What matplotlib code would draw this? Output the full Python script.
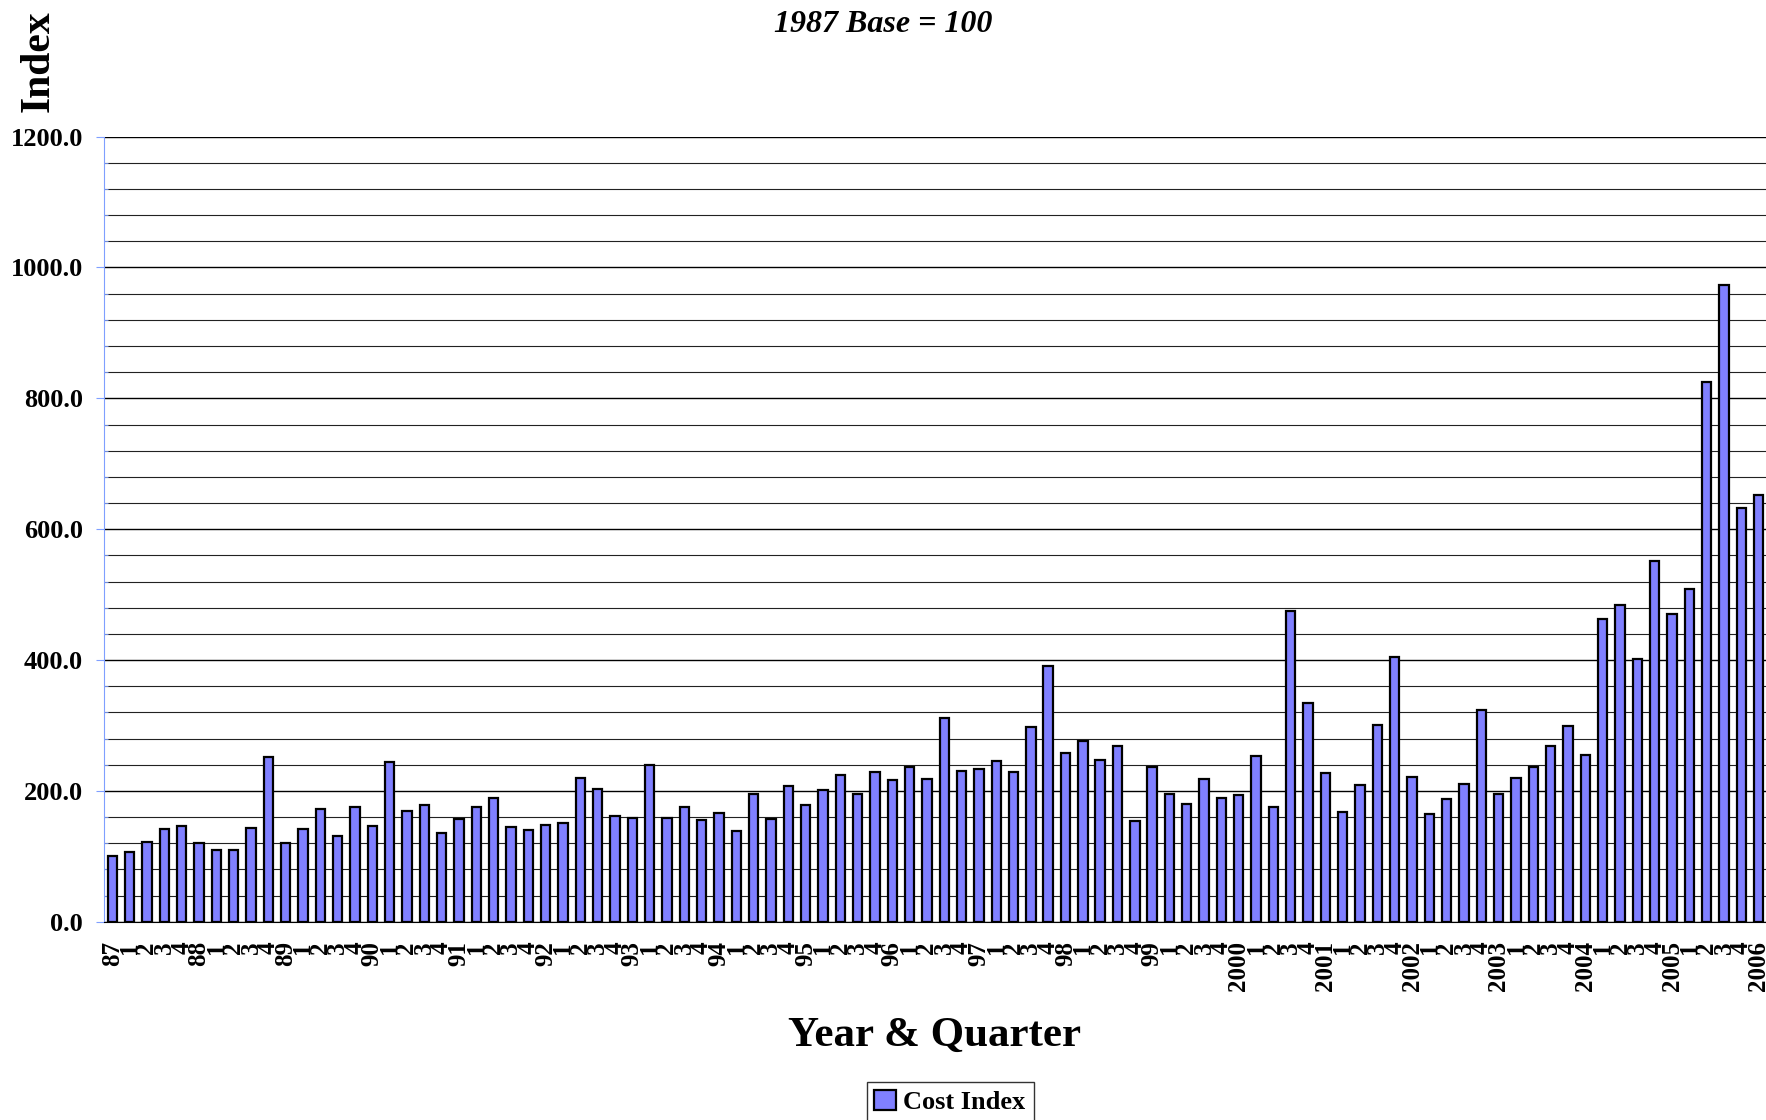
import numpy as np
import matplotlib.pyplot as plt
from matplotlib.ticker import MultipleLocator, FormatStrFormatter

# 年份标签 + 每年 4 个季度
years = ['87', '88', '89', '90', '91', '92', '93', '94', '95', '96', '97', '98', '99',
         '2000', '2001', '2002', '2003', '2004', '2005', '2006']
quarters = ['1', '2', '3', '4']

# Cost Index (1987 base = 100)
cost_index = [100, 107, 122, 142, 146, 121, 110, 110, 143, 252,
              121, 142, 173, 131, 176, 146, 244, 169, 178, 135,
              157, 175, 189, 145, 141, 148, 151, 220, 203, 161,
              159, 239, 159, 176, 156, 166, 138, 196, 157, 207,
              178, 201, 225, 195, 229, 217, 236, 218, 311, 231,
              234, 245, 229, 298, 391, 258, 277, 248, 269, 154,
              237, 196, 180, 218, 189, 193, 254, 176, 475, 335,
              227, 168, 209, 301, 404, 221, 164, 188, 210, 324,
              195, 219, 237, 268, 299, 255, 462, 484, 402, 551,
              471, 508, 825, 974, 633, 653]

labels = []
for y in years:
    labels.append(y)
    labels.extend(quarters)
labels = labels[:len(cost_index)]

plt.rcParams['font.family'] = ['Liberation Serif', 'DejaVu Serif']
plt.rcParams['font.weight'] = 'bold'

fig = plt.figure(figsize=(17.66, 11.2), dpi=100)
ax = fig.add_axes([0.0587, 0.177, 1 - 0.0587, 0.878 - 0.177])

x = np.arange(len(cost_index))
ax.bar(x, cost_index, width=0.54, color='#8080FF', edgecolor='black',
       linewidth=1.6, label='Cost Index', zorder=3)

ax.set_xlim(-0.5, 95.42)
ax.set_ylim(0, 1200)

# 网格线: 主 200, 次 40
ax.yaxis.set_major_locator(MultipleLocator(200))
ax.yaxis.set_minor_locator(MultipleLocator(40))
ax.yaxis.set_major_formatter(FormatStrFormatter('%.1f'))
ax.grid(axis='y', which='major', color='black', linewidth=1.0, zorder=0)
ax.grid(axis='y', which='minor', color='#222222', linewidth=0.8, zorder=0)

ax.set_xticks(x)
ax.set_xticklabels(labels, rotation=90, fontsize=18, fontweight='bold')
ax.tick_params(axis='x', length=0, pad=14)
ax.tick_params(axis='y', which='major', length=6, color='#7f9fff', labelsize=19, pad=9)
ax.tick_params(axis='y', which='minor', length=3, direction='in', color='#7f9fff')

for s in ['top', 'right']:
    ax.spines[s].set_visible(False)
ax.spines['left'].set_color('#7f9fff')
ax.spines['bottom'].set_color('black')

fig.text(0.022, 0.945, 'Index', rotation=90, ha='center', va='center',
         fontsize=30, fontweight='bold')
fig.text(0.5, 0.978, '1987 Base = 100', ha='center', va='center',
         fontsize=23, fontweight='bold', style='italic')
fig.text(935 / 1766, 1 - 1036 / 1120, 'Year & Quarter', ha='center', va='center',
         fontsize=31, fontweight='bold')

leg = fig.legend(loc='upper center', bbox_to_anchor=(0.538, 0.034), fontsize=19,
                 frameon=True, fancybox=False, edgecolor='black',
                 handlelength=0.8, handleheight=0.8, handletextpad=0.3,
                 borderpad=0.3, borderaxespad=0)
leg.get_frame().set_linewidth(1.0)

fig.savefig('out.png', dpi=100)
